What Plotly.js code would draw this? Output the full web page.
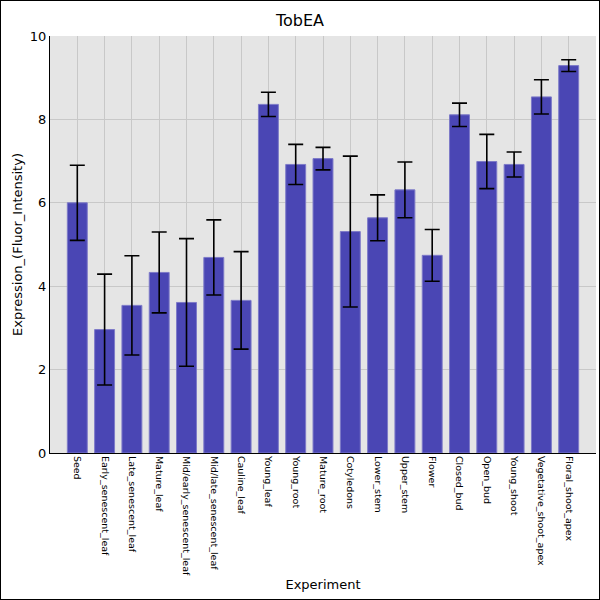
<!DOCTYPE html>
<html>
<head>
<meta charset="utf-8">
<script src="https://cdn.plot.ly/plotly-3.0.1.min.js"></script>
<style>
  body { margin: 0; padding: 0; background: #fff; }
  #chart { width: 600px; height: 600px; box-sizing: border-box; border: 1px solid #000; }
</style>
</head>
<body>
<div id="chart"></div>
<script>
// tissues along the x axis
var experiments = ["Seed", "Early_senescent_leaf", "Late_senescent_leaf", "Mature_leaf",
  "Mid/early_senescent_leaf", "Mid/late_senescent_leaf", "Cauline_leaf", "Young_leaf",
  "Young_root", "Mature_root", "Cotyledons", "Lower_stem", "Upper_stem", "Flower",
  "Closed_bud", "Open_bud", "Young_shoot", "Vegetative_shoot_apex", "Floral_shoot_apex"];

// mean expression per tissue
var expression = [6.0, 2.96, 3.54, 4.33, 3.61, 4.69, 3.66, 8.36, 6.92, 7.06,
  5.31, 5.64, 6.31, 4.74, 8.11, 6.99, 6.92, 8.54, 9.29];

// standard deviation per tissue
var stdev = [0.9, 1.33, 1.19, 0.97, 1.53, 0.9, 1.17, 0.29, 0.48, 0.27,
  1.81, 0.55, 0.67, 0.62, 0.28, 0.65, 0.3, 0.41, 0.14];

var yTicks = [0, 2, 4, 6, 8, 10];

var trace = {
  type: "bar",
  x: experiments,
  y: expression,
  width: 0.73,
  marker: {
    color: "#4a46b4",
    line: { color: "#7d7ac8", width: 1 }
  },
  error_y: {
    type: "data",
    array: stdev,
    visible: true,
    color: "#000",
    thickness: 1.6,
    width: 7.5
  },
  hoverinfo: "x+y"
};

var layout = {
  width: 598,
  height: 598,
  margin: { l: 49, r: 3, t: 35, b: 146 },
  paper_bgcolor: "#fff",
  plot_bgcolor: "#e5e5e5",
  font: { family: "DejaVu Sans", color: "#000" },
  title: { text: "TobEA", font: { size: 16, color: "#000" }, x: 0.5, y: 0.967, yanchor: "middle" },
  showlegend: false,
  xaxis: {
    title: { text: "Experiment", font: { size: 13 }, standoff: 4 },
    range: [-1, experiments.length],
    tickangle: 90,
    tickfont: { size: 9.5 },
    showgrid: true,
    gridcolor: "#c8c8c8",
    gridwidth: 1,
    showline: true,
    linecolor: "#000",
    linewidth: 1,
    ticks: "",
    automargin: false
  },
  yaxis: {
    title: { text: "Expression_(Fluor_Intensity)", font: { size: 13 }, standoff: 4 },
    range: [0, 10],
    tickvals: yTicks,
    ticktext: yTicks.map(String),
    tickfont: { size: 13 },
    showgrid: true,
    gridcolor: "#c8c8c8",
    gridwidth: 1,
    zeroline: false,
    showline: true,
    linecolor: "#000",
    linewidth: 1,
    ticks: "",
    automargin: false
  }
};

Plotly.newPlot("chart", [trace], layout, { displayModeBar: false, staticPlot: true });
</script>
</body>
</html>
